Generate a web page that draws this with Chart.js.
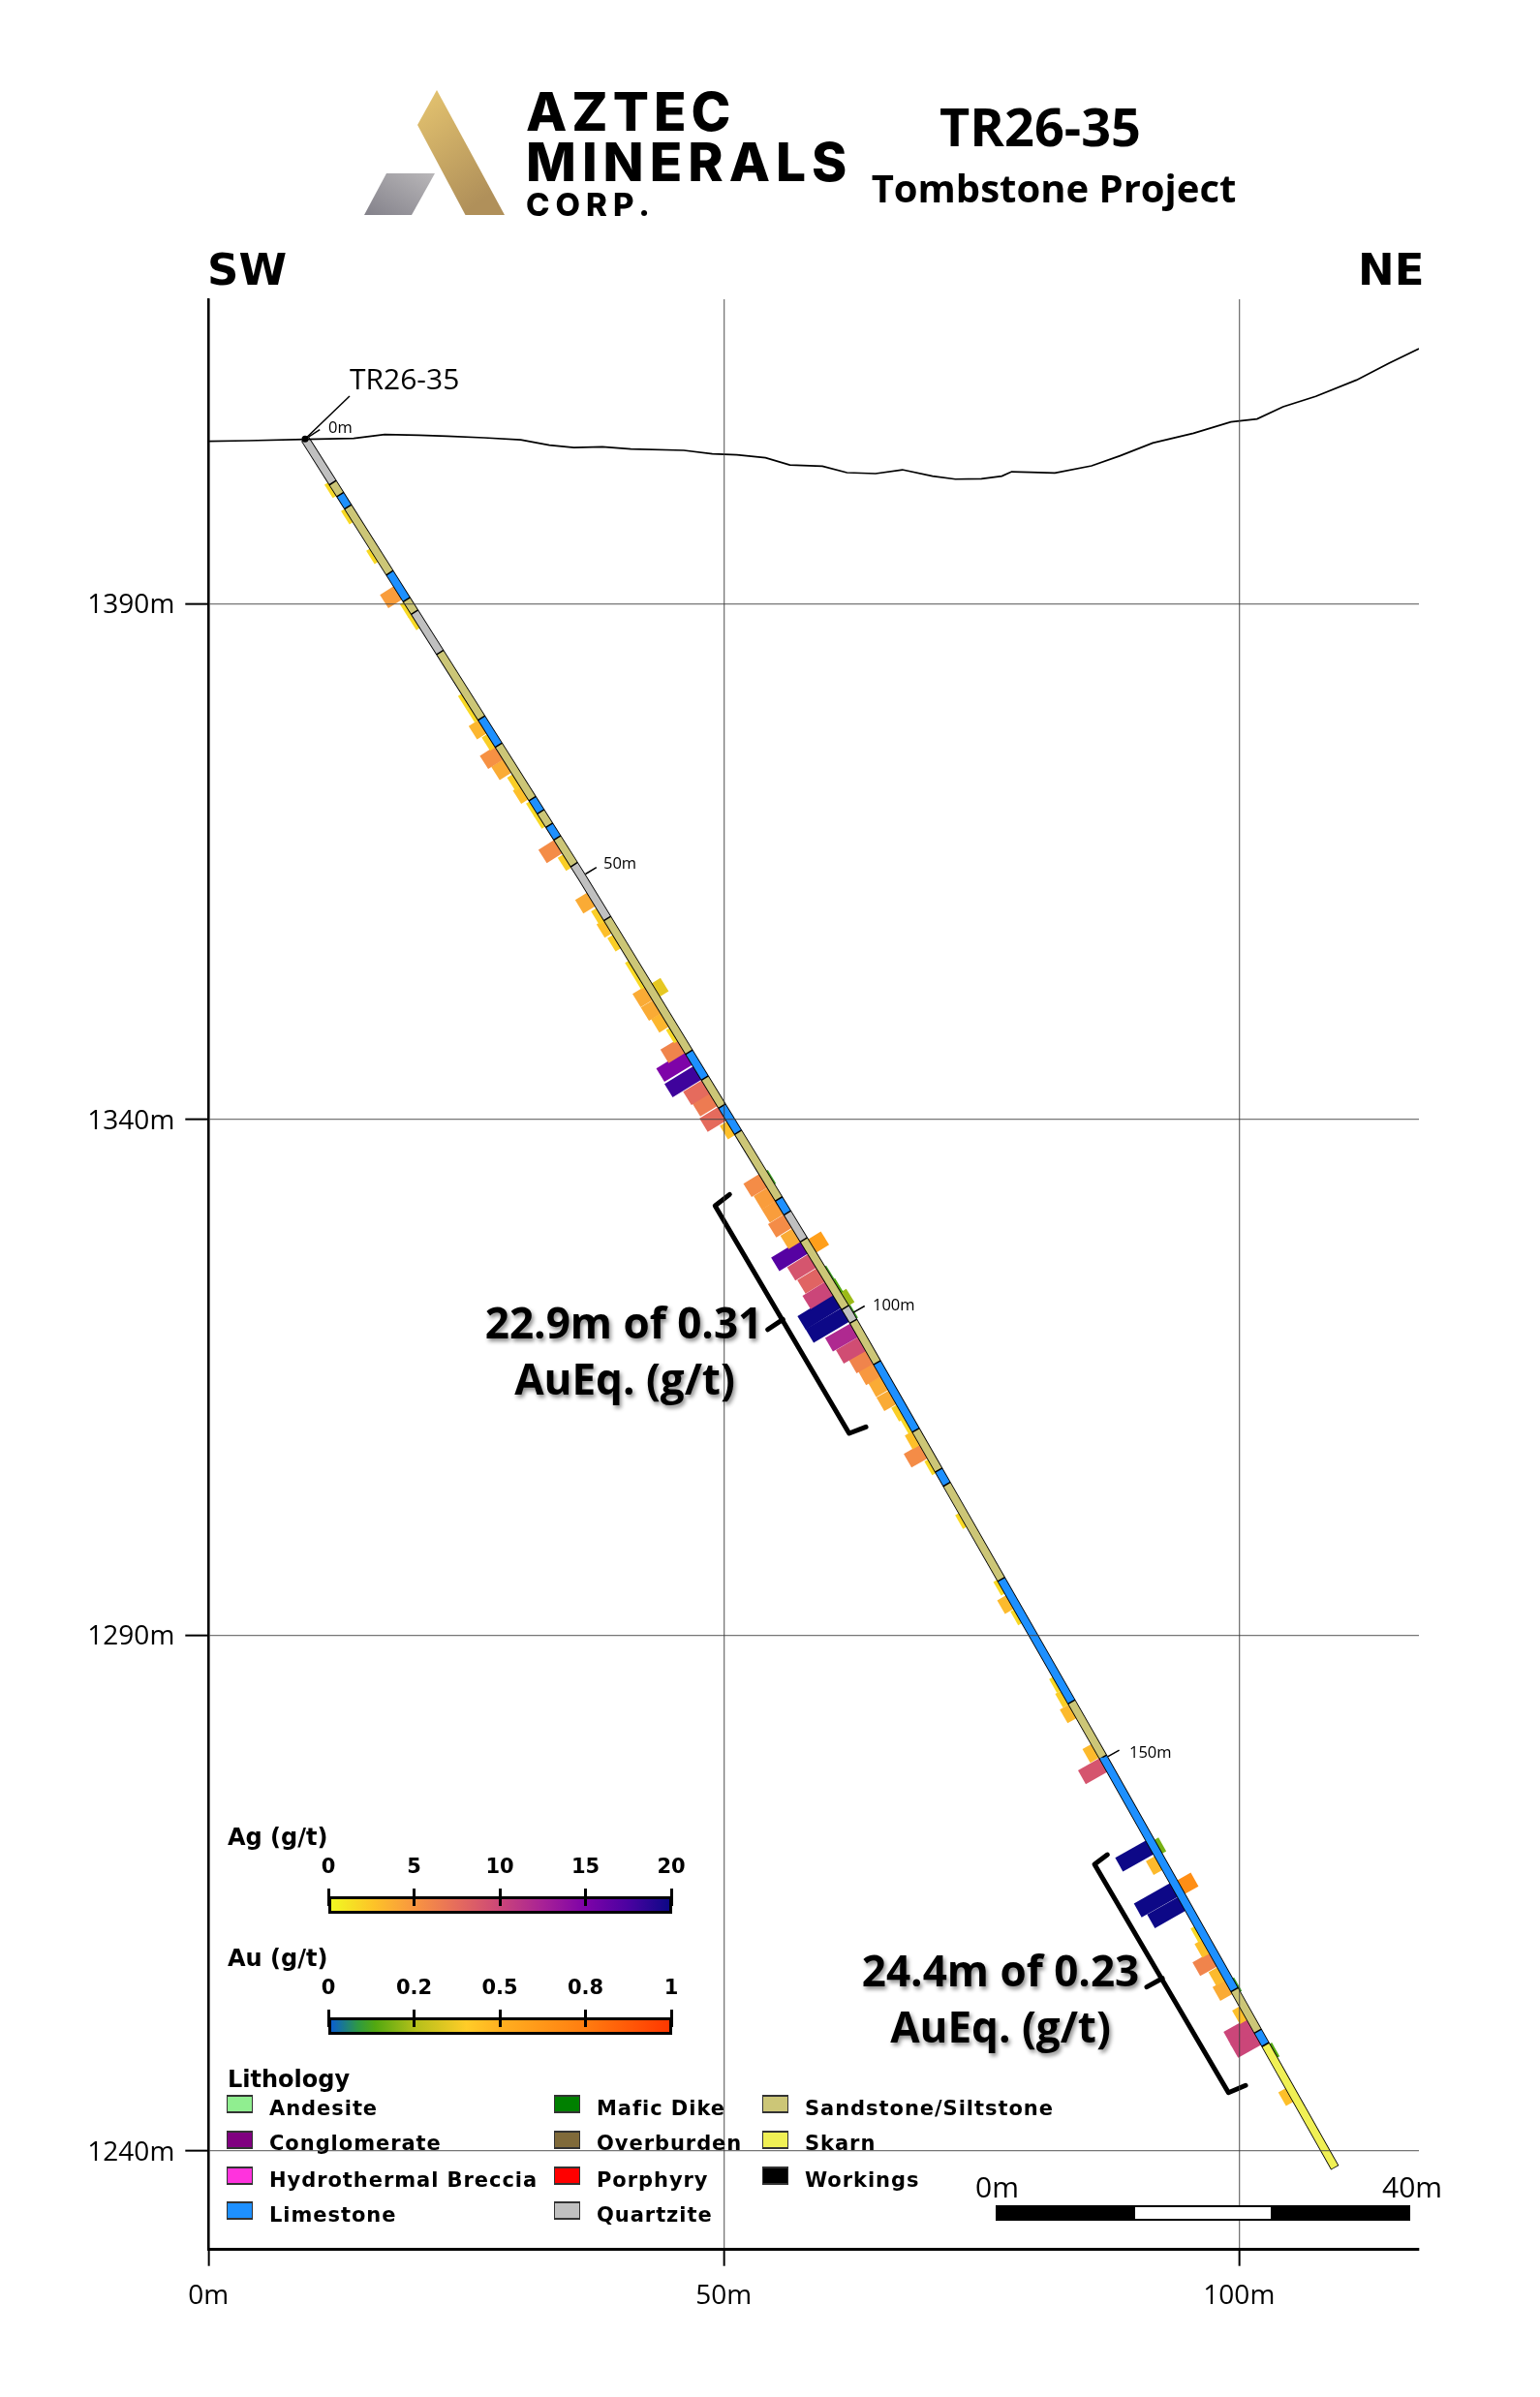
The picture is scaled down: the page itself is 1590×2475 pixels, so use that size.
<!DOCTYPE html>
<html lang="en">
<head>
<meta charset="UTF-8">
<title>TR26-35 Tombstone Project</title>
<script src="https://cdn.jsdelivr.net/npm/chart.js"></script>
<style>
html,body{margin:0;padding:0;background:#fff}
#page{position:relative;width:1590px;height:2475px;overflow:hidden}
canvas{position:absolute;left:0;top:0}
.t{position:absolute;line-height:1;white-space:nowrap;transform:translateY(-50%);color:#000;font-family:"Open Sans",sans-serif}
.c{transform:translate(-50%,-50%)}
.h{font-weight:700}
.dir{font:700 45px "DejaVu Sans",sans-serif}
.logo{font-family:Inter,sans-serif;font-weight:800}
.call{font-weight:700;font-size:44px;text-shadow:2px 3px 4px rgba(0,0,0,.45)}
.depth{font-size:16.5px}
.leg{font:700 21px "DejaVu Sans",sans-serif;letter-spacing:.95px}
.legh{font:700 24px "DejaVu Sans",sans-serif}
.tick{font:700 21px "DejaVu Sans",sans-serif}
.sw{position:absolute;width:25px;height:15px;border:1px solid #333;border-top-width:2px;border-bottom-width:2px;box-sizing:content-box}
.cb{position:absolute;left:339px;width:355px;height:18px;border:3px solid #000;box-sizing:border-box}
.cbt{position:absolute;width:3px;height:18px;background:#000}
</style>
</head>
<body>
<div id="page">
<canvas id="myChart" width="1590" height="2475"></canvas>

<svg style="position:absolute;left:0;top:0" width="800" height="240">
  <defs>
    <linearGradient id="gold" x1="0" y1="0" x2="0.5" y2="1"><stop offset="0" stop-color="#e6c570"/><stop offset="1" stop-color="#b0905a"/></linearGradient>
    <linearGradient id="grey" x1="1" y1="0" x2="0" y2="1"><stop offset="0" stop-color="#b9b7b9"/><stop offset="1" stop-color="#83818a"/></linearGradient>
  </defs>
  <polygon points="451,93 431,129 480.5,222 521,222" fill="url(#gold)"/>
  <polygon points="399,179 449,179 425,222 376,222" fill="url(#grey)"/>
</svg>
<div class="t logo" style="left:543px;top:115px;font-size:55px;letter-spacing:5px">AZTEC</div>
<div class="t logo" style="left:543px;top:167px;font-size:55px;letter-spacing:6px">MINERALS</div>
<div class="t logo" style="left:543px;top:211px;font-size:33px;letter-spacing:6px">CORP.</div>
<div class="t h c" style="left:1074px;top:130px;font-size:54px">TR26-35</div>
<div class="t h c" style="left:1088px;top:194px;font-size:40px">Tombstone Project</div>
<div class="t dir" style="left:214px;top:278px">SW</div>
<div class="t dir" style="left:1402px;top:278px">NE</div>

<div class="t" style="left:361px;top:391px;font-size:30px">TR26-35</div>
<div class="t depth" style="left:339px;top:441px">0m</div>
<div class="t depth" style="left:623px;top:891px">50m</div>
<div class="t depth" style="left:901px;top:1347px">100m</div>
<div class="t depth" style="left:1166px;top:1809px">150m</div>

<div class="t call c" style="left:644px;top:1365px">22.9m of 0.31</div>
<div class="t call c" style="left:645px;top:1423px">AuEq. (g/t)</div>
<div class="t call c" style="left:1033px;top:2034px">24.4m of 0.23</div>
<div class="t call c" style="left:1033px;top:2092px">AuEq. (g/t)</div>

<div id="legend"></div>

<div class="t" style="left:1007px;top:2258px;font-size:30px">0m</div>
<div class="t" style="left:1427px;top:2258px;font-size:30px">40m</div>
<div style="position:absolute;left:1028px;top:2277px;width:428px;height:16px;background:#000"></div>
<div style="position:absolute;left:1172px;top:2279px;width:140px;height:12px;background:#fff"></div>
</div>

<script>
// hole survey (depth m, section x m, elevation m)
const surveyDepth = [0, 50, 100, 150, 195.5];
const surveyX = [9.37, 36.2, 62.2, 86.9, 109.3];
const surveyZ = [1405.96, 1363.55, 1321.06, 1278, 1238.35];

// surface profile
const topoX = [0,3.8,9.34,14.09,17.09,20.42,23.18,26.74,30.3,33.07,35.45,38.22,40.98,46.12,48.89,51.27,54.04,56.41,59.57,61.95,64.72,67.33,70.25,72.47,75,76.98,77.93,79.75,82.12,85.68,88.45,91.62,95.57,99.21,101.74,104.27,107.44,111.39,114.55,117.45];
const topoZ = [1405.74,1405.8,1405.93,1406.02,1406.39,1406.33,1406.24,1406.08,1405.89,1405.36,1405.14,1405.2,1404.99,1404.86,1404.52,1404.42,1404.14,1403.45,1403.33,1402.7,1402.61,1402.98,1402.36,1402.07,1402.1,1402.36,1402.79,1402.73,1402.67,1403.36,1404.33,1405.58,1406.52,1407.62,1407.9,1409.09,1410.09,1411.68,1413.31,1414.72];

// lithology down the hole: each name runs from lithTop[i] to lithTop[i+1]
const lithTop = [0,5,6.35,7.75,15.3,18.35,19.8,24.4,31.9,35,41.1,42.6,44.15,45.6,48.65,54.8,70.05,73,76.2,79.2,86.8,88.4,91.45,99.2,100.75,105.4,113,117.5,119.1,129.8,143.6,149.8,175.7,180.3,181.8,195.5];
const lithName = ["Quartzite","Sandstone/Siltstone","Limestone","Sandstone/Siltstone","Limestone","Sandstone/Siltstone","Quartzite","Sandstone/Siltstone","Limestone","Sandstone/Siltstone","Limestone","Sandstone/Siltstone","Limestone","Sandstone/Siltstone","Quartzite","Sandstone/Siltstone","Limestone","Sandstone/Siltstone","Limestone","Sandstone/Siltstone","Limestone","Quartzite","Sandstone/Siltstone","Quartzite","Sandstone/Siltstone","Limestone","Sandstone/Siltstone","Limestone","Sandstone/Siltstone","Limestone","Sandstone/Siltstone","Limestone","Sandstone/Siltstone","Limestone","Skarn"];

// assays, mid depth of each 1.52m sample
const agDepth = [5.5,8.5,13.05,17.35,19.15,20.6,29.65,31.15,32.65,34.25,35.65,37.15,38.85,40.2,41.95,43.3,46.35,48,52.4,54.15,55.5,57.2,60.15,61.65,63.1,64.65,66.15,67.8,69.15,70.5,72.2,73.8,75.2,76.85,78.5,84.5,86.05,87.55,89.1,90.7,92.05,93.65,95.25,96.8,98.25,99.8,101.55,103.1,104.55,106,107.5,109.1,110.7,112.2,113.7,115.2,116.85,122.9,130.4,132.15,133.75,141.35,142.9,144.45,148.9,150.5,159.65,161.4,164.4,165.95,169.2,170.7,172.15,173.75,175.2,178.1,179.5,180.85,187.2];
const agValue = [1.5,1.5,1.5,4.5,1.5,1.5,1.5,1.5,3.2,2,5.2,3.8,2,2.7,1.5,1.5,5.5,2,3.8,2,2.7,2,1.5,1.5,3.8,3.8,3.2,1.5,6,15,18,7.5,6.5,7.5,2.7,5.5,4.5,4.5,5.5,3.8,17,9,8,10,24,24,12,9.5,6,4.8,3.8,3.8,2,1.5,2.7,5.5,1.5,1.5,1.5,3,1.5,1.5,2,3,3,9,20,3,24,20,1.5,2.7,6,3,3.8,2.7,10,10,2.7];
const auDepth = [63.2,84.6,92.4,95.5,97,98.45,99.9,160,164.5,175.4,182.7];
const auValue = [0.3,0.1,0.6,0.1,0.12,0.18,0.1,0.15,0.7,0.1,0.12];
const sampleLen = 1.524;

// how far a bar sticks out (m) for a grade
const agLenGrade = [0,1.5,2,2.7,3.5,4.5,5.5,7.5,10,15,18,20,24];
const agLenM = [0,0.35,0.55,0.75,1.2,1.5,1.72,2.05,2.5,3.1,3.2,3.35,3.95];
const auLenGrade = [0,0.1,0.12,0.15,0.18,0.3,0.6,0.7,1];
const auLenM = [0,0.12,0.2,0.4,0.6,0.95,1.4,1.45,1.8];

// colour ramps
const agStops = [0,2.5,5,7.5,10,12.5,15,17.5,20];
const agColors = ["#f0f921","#fdc328","#f89441","#e56b5d","#cb4679","#a82296","#7e03a8","#4c02a1","#0d0887"];
const auStops = [0,0.08,0.12,0.2,0.35,0.5,0.8,1];
const auPos = [0,0.08,0.13,0.25,0.4,0.5,0.75,1];
const auColors = ["#0a5fd0","#2f9a40","#52a810","#b5c01a","#ffcc28","#ffb020","#ff7d10","#ff3800"];

const agTicks = ["0","5","10","15","20"];
const auTicks = ["0","0.2","0.5","0.8","1"];

const legendNames = [["Andesite","Conglomerate","Hydrothermal Breccia","Limestone"],["Mafic Dike","Overburden","Porphyry","Quartzite"],["Sandstone/Siltstone","Skarn","Workings"]];
const lithColors = {"Andesite":"#90ee90","Conglomerate":"#800080","Hydrothermal Breccia":"#ff33dd","Limestone":"#1e90ff","Mafic Dike":"#008000","Overburden":"#806a3a","Porphyry":"#ff0000","Quartzite":"#c0c0c0","Sandstone/Siltstone":"#ccc677","Skarn":"#f0f055","Workings":"#000000"};

const xTicks = [0,50,100];
const zTicks = [1240,1290,1340,1390];

// intercept brackets
const bracket1X = [50.56,49.15,62.16,63.79], bracket1Z = [1332.71,1331.61,1309.55,1310.18];
const bracket1MidX = [54.27,55.73], bracket1MidZ = [1319.62,1320.6];
const bracket2X = [87.22,85.97,98.97,100.63], bracket2Z = [1268.7,1267.77,1245.63,1246.33];
const bracket2MidX = [91.04,92.55], bracket2MidZ = [1255.87,1256.71];
const collarLeaderX = [13.69,9.37], collarLeaderZ = [1410.12,1405.96];
const depthMarks = [0,50,100,150];

function lookup(v, xs, ys){
    if(v<=xs[0]) return ys[0];
    for(let i=1;i<xs.length;i++){
        if(v<=xs[i]) return ys[i-1]+(ys[i]-ys[i-1])*(v-xs[i-1])/(xs[i]-xs[i-1]);
    }
    return ys[ys.length-1];
}
function hex2rgb(h){ return [1,3,5].map(i=>parseInt(h.substr(i,2),16)); }
function ramp(v, xs, cols){
    let i=1;
    if(v>=xs[xs.length-1]) return cols[cols.length-1];
    while(i<xs.length-1 && v>xs[i]) i++;
    const f=Math.max(0,(v-xs[i-1])/(xs[i]-xs[i-1])), a=hex2rgb(cols[i-1]), b=hex2rgb(cols[i]);
    return "rgb("+a.map((c,k)=>Math.round(c+(b[k]-c)*f)).join(",")+")";
}
function holeAt(d){ return {x:lookup(d,surveyDepth,surveyX), y:lookup(d,surveyDepth,surveyZ)}; }
// unit normal pointing to the footwall (left/down) side
function normalAt(d){
    const a=holeAt(d-1), b=holeAt(d+1), l=Math.hypot(b.x-a.x,b.y-a.y);
    return {x:(b.y-a.y)/l, y:-(b.x-a.x)/l};
}
function holeSlice(a,b){
    const pts=[holeAt(a)];
    surveyDepth.forEach(d=>{ if(d>a && d<b) pts.push(holeAt(d)); });
    pts.push(holeAt(b));
    return pts;
}
function xy(xs,zs){ return xs.map((x,i)=>({x:x,y:zs[i]})); }
function line(data,color,width,extra){
    return Object.assign({data:data,showLine:true,borderColor:color,borderWidth:width,pointRadius:0,fill:false,tension:0},extra||{});
}
const metresToPx = c => Math.abs(c.chart.scales.y.getPixelForValue(0)-c.chart.scales.y.getPixelForValue(1));
const HALF = 0.44;

function assayBar(d,len,side,color){
    const p=holeAt(d), n=normalAt(d);
    const a={x:p.x+side*n.x*0.1,y:p.y+side*n.y*0.1}, b={x:p.x+side*n.x*(HALF+len),y:p.y+side*n.y*(HALF+len)};
    return line([a,b],color,c=>sampleLen*metresToPx(c));
}

const datasets = [];
// first dataset ends up on top
const roundLine = {borderCapStyle:"round",borderJoinStyle:"round"};
datasets.push(line(xy(bracket1X,bracket1Z),"#000",5,roundLine));
datasets.push(line(xy(bracket1MidX,bracket1MidZ),"#000",5,roundLine));
datasets.push(line(xy(bracket2X,bracket2Z),"#000",5,roundLine));
datasets.push(line(xy(bracket2MidX,bracket2MidZ),"#000",5,roundLine));
datasets.push(line(xy(collarLeaderX,collarLeaderZ),"#000",1.5));
depthMarks.forEach(d=>{
    const p=holeAt(d), n=normalAt(d+1);
    datasets.push(line([{x:p.x-n.x*HALF,y:p.y-n.y*HALF},{x:p.x-n.x*(HALF+1.25),y:p.y-n.y*(HALF+1.25)}],"#000",1.5));
});
datasets.push({data:[holeAt(0)],pointRadius:3.5,pointBackgroundColor:"#000",pointBorderWidth:0});
datasets.push(line(xy(topoX,topoZ),"#000",1.7));
lithName.forEach((name,i)=>{
    datasets.push(line(holeSlice(lithTop[i]+0.07,lithTop[i+1]-0.07),lithColors[name],7.6));
});
datasets.push(line(holeSlice(0,195.5),"#000",9.4));
agDepth.forEach((d,i)=>{
    datasets.push(assayBar(d,lookup(agValue[i],agLenGrade,agLenM),1,ramp(agValue[i],agStops,agColors)));
});
auDepth.forEach((d,i)=>{
    datasets.push(assayBar(d,lookup(auValue[i],auLenGrade,auLenM),-1,ramp(auValue[i],auStops,auColors)));
});

const ctx = document.getElementById("myChart").getContext("2d");
const myChart = new Chart(ctx,{
    type:"scatter",
    data:{datasets:datasets},
    options:{
        responsive:false,
        animation:false,
        events:[],
        layout:{padding:{left:0,top:309,right:125,bottom:0}},
        plugins:{legend:{display:false},tooltip:{enabled:false},title:{display:false}},
        scales:{
            x:{
                type:"linear",min:0,max:117.45,
                afterBuildTicks:s=>{s.ticks=xTicks.map(v=>({value:v}));},
                afterFit:s=>{s.height=152.3;},
                grid:{color:"rgba(60,60,60,.7)",lineWidth:1.3,tickColor:"#000",tickLength:17,tickWidth:2,z:1},
                border:{color:"#000",width:3,z:2},
                ticks:{color:"#000",padding:15,maxRotation:0,font:{family:"'Open Sans',sans-serif",size:28},callback:v=>v+"m"}
            },
            y:{
                type:"linear",min:1230.42,max:1419.51,
                afterBuildTicks:s=>{s.ticks=zTicks.map(v=>({value:v}));},
                afterFit:s=>{s.width=215.3;},
                grid:{color:"rgba(60,60,60,.7)",lineWidth:1.3,tickColor:"#000",tickLength:24,tickWidth:2,z:1},
                border:{color:"#000",width:2.5,z:2},
                ticks:{color:"#000",padding:11,labelOffset:2,font:{family:"'Open Sans',sans-serif",size:28},callback:v=>v+"m"}
            }
        }
    }
});

// legend blocks, plain html built from the arrays above
function div(cls,style,text){
    const e=document.createElement("div");
    e.className=cls; e.style.cssText=style;
    if(text) e.textContent=text;
    document.getElementById("legend").appendChild(e);
    return e;
}
function colourBar(title,titleY,barY,ticks,gradient){
    div("t legh","left:235px;top:"+titleY+"px",title);
    const b=div("cb","top:"+barY+"px");
    b.style.background="linear-gradient(to right,"+gradient+")";
    ticks.forEach((t,i)=>{
        const x=339+i*88.5;
        div("t tick c","left:"+x+"px;top:"+(barY-31)+"px",t);
        div("cbt","left:"+(x-1.5)+"px;top:"+(barY-8)+"px");
    });
}
colourBar("Ag (g/t)",1897,1958,agTicks,agColors.map((c,i)=>c+" "+(agStops[i]*5)+"%").join(","));
colourBar("Au (g/t)",2022,2083,auTicks,auColors.map((c,i)=>c+" "+(auPos[i]*100)+"%").join(","));
div("t legh","left:235px;top:2147px","Lithology");
const colSw=[234,572,787], colTx=[278,616,831], rowSw=[2163,2200,2237,2273], rowTx=[2177,2213,2251,2287];
legendNames.forEach((col,c)=>col.forEach((name,r)=>{
    div("sw","left:"+colSw[c]+"px;top:"+rowSw[r]+"px;background:"+lithColors[name]);
    div("t leg","left:"+colTx[c]+"px;top:"+rowTx[r]+"px",name);
}));
</script>
</body>
</html>
